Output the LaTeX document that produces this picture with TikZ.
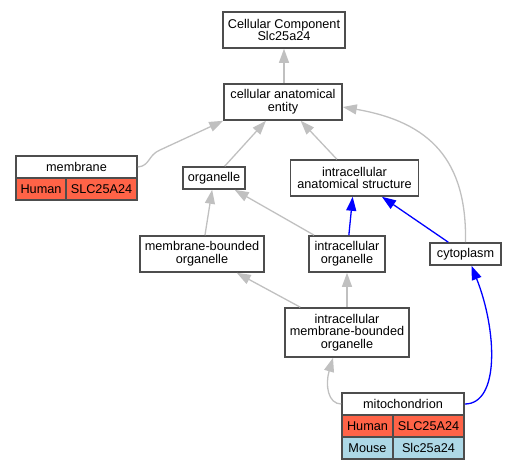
\documentclass[tikz,border=0pt]{standalone}
\usepackage{fontspec}
\setmainfont{Liberation Sans}
\usetikzlibrary{arrows.meta}
\definecolor{edgegray}{HTML}{C0C0C0}
\definecolor{boxgray}{HTML}{4D4D4D}
\definecolor{human}{HTML}{FF6347}
\definecolor{mouse}{HTML}{ADD8E6}
\begin{document}
\begin{tikzpicture}[x=1pt,y=-1pt,
    box/.style={draw=boxgray, line width=1.6pt, fill=white, inner sep=0pt, align=center,
        font=\fontsize{12.7}{12.7}\selectfont},
    cell/.style={box, minimum height=22pt},
    isa/.style={draw=edgegray, line width=1.3pt, -{Triangle[length=14pt,width=10pt]}},
    part/.style={draw=blue, line width=1.3pt, -{Triangle[length=14pt,width=10pt]}}]
    \useasboundingbox (0,0) rectangle (516,469);
    \node[box, minimum width=122pt, minimum height=36pt] (cc) at (284,30) {Cellular Component\\Slc25a24};
    \node[box, minimum width=118pt, minimum height=36pt] (cae) at (283,102) {cellular anatomical\\entity};
    \node[cell, minimum width=121pt] (memh) at (76.5,167) {membrane};
    \node[cell, fill=human, minimum width=50pt] (memsp) at (41,189) {Human};
    \node[cell, fill=human, minimum width=71pt] (memgn) at (101.5,189) {SLC25A24};
    \node[cell, minimum width=62pt] (org) at (214,178) {organelle};
    \node[box, minimum width=128pt, minimum height=36pt] (ias) at (354.5,178) {intracellular\\anatomical structure};
    \node[box, minimum width=124pt, minimum height=36pt] (mbo) at (202,254) {membrane-bounded\\organelle};
    \node[box, minimum width=76pt, minimum height=36pt] (io) at (347,254) {intracellular\\organelle};
    \node[cell, minimum width=71pt] (cyt) at (465.5,254) {cytoplasm};
    \node[box, minimum width=124pt, minimum height=49pt] (imbo) at (347,332.5) {intracellular\\membrane-bounded\\organelle};
    \node[cell, minimum width=122pt] (mitoh) at (403,404) {mitochondrion};
    \node[cell, fill=human, minimum width=51pt] (mitohsp) at (367.5,426) {Human};
    \node[cell, fill=human, minimum width=71pt] (mitohgn) at (428.5,426) {SLC25A24};
    \node[cell, fill=mouse, minimum width=51pt] (mitomsp) at (367.5,448) {Mouse};
    \node[cell, fill=mouse, minimum width=71pt] (mitomgn) at (428.5,448) {Slc25a24};
    \draw[isa] ([xshift=1pt]cae.north) -- (cc.south);
    \draw[isa] (memh.east) .. controls (150,166) and (148,155) .. (160,150) -- (cae.south west);
    \draw[isa] (org) -- (cae);
    \draw[isa] (ias) -- (cae);
    \draw[isa] (cyt.north) .. controls (467,160) and (430,122) .. ([yshift=-5pt]cae.east);
    \draw[isa] (mbo) -- (org);
    \draw[isa] (io) -- (org);
    \draw[part] (io) -- (ias);
    \draw[part] (cyt) -- (ias);
    \draw[isa] (imbo) -- (mbo);
    \draw[isa] (imbo) -- (io);
    \draw[isa] (mitoh.west) .. controls (328,404) and (325,385) .. ([xshift=-14pt]imbo.south);
    \draw[part] (mitoh.east) .. controls (500,404) and (497,330) .. ([xshift=6pt]cyt.south);
\end{tikzpicture}
\end{document}
